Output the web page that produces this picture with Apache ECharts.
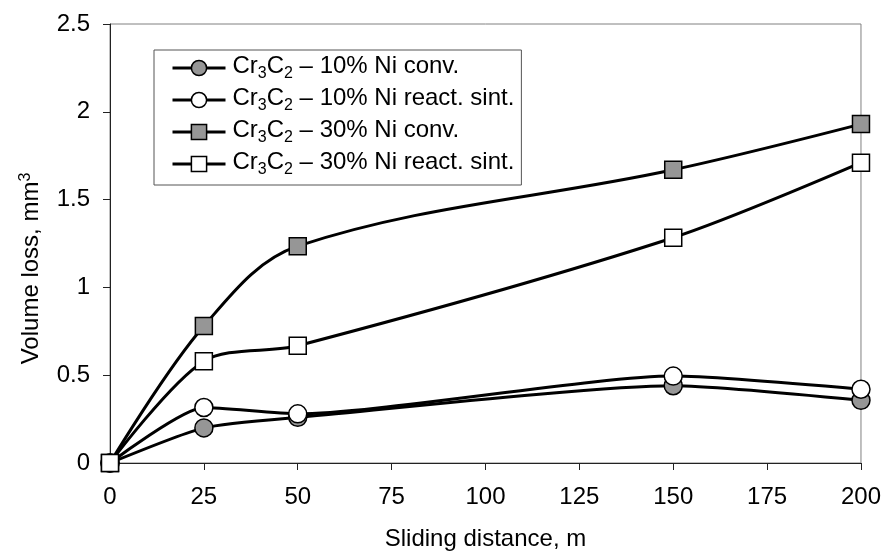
<!DOCTYPE html>
<html>
<head>
<meta charset="utf-8">
<script src="https://cdn.jsdelivr.net/npm/echarts@6/dist/echarts.min.js"></script>
<style>
    html, body { margin: 0; padding: 0; background: #ffffff; }
    #chart { width: 884px; height: 556px; }
</style>
</head>
<body>
<div id="chart"></div>
<script>
const distances = [0, 25, 50, 150, 200];

const ni10Conv = [0, 0.2, 0.26, 0.44, 0.357];
const ni10React = [0, 0.316, 0.28, 0.495, 0.42];
const ni30Conv = [0, 0.78, 1.235, 1.67, 1.93];
const ni30React = [0, 0.58, 0.668, 1.283, 1.71];

const seriesNames = [
    "{m|Cr}{sub|3}{m|C}{sub|2}{m| – 10% Ni conv.}",
    "{m|Cr}{sub|3}{m|C}{sub|2}{m| – 10% Ni react. sint.}",
    "{m|Cr}{sub|3}{m|C}{sub|2}{m| – 30% Ni conv.}",
    "{m|Cr}{sub|3}{m|C}{sub|2}{m| – 30% Ni react. sint.}"
];

const FONT = "'Liberation Sans', Arial, sans-serif";

function toPoints(values) {
    return distances.map((d, i) => [d, values[i]]);
}

function makeSeries(name, values, symbol, fill, size, smooth) {
    return {
        name: name,
        type: "line",
        smooth: smooth,
        data: toPoints(values),
        symbol: symbol,
        symbolSize: size,
        showAllSymbol: true,
        clip: false,
        lineStyle: {
            color: "#000000",
            width: 3
        },
        itemStyle: {
            color: fill,
            borderColor: "#000000",
            borderWidth: 1.5
        },
        emphasis: { disabled: true }
    };
}

const chart = echarts.init(document.getElementById("chart"));

chart.setOption({
    animation: false,
    textStyle: {
        fontFamily: FONT
    },
    grid: {
        left: 110,
        right: 21,
        top: 24,
        bottom: 91,
        show: true,
        borderColor: "#808080",
        borderWidth: 1
    },
    legend: {
        orient: "vertical",
        left: 154,
        top: 50,
        padding: [4, 7, 7, 17],
        itemGap: 4,
        itemWidth: 53,
        itemHeight: 19,
        borderColor: "#555555",
        borderWidth: 1,
        backgroundColor: "#ffffff",
        lineStyle: {
            width: 3
        },
        itemStyle: {
            borderColor: "#000000",
            borderWidth: 1.5
        },
        textStyle: {
            color: "#000000",
            fontSize: 24,
            fontFamily: FONT,
            padding: [0, 0, 0, 2],
            rich: {
                m: {
                    color: "#000000",
                    fontSize: 24,
                    fontFamily: FONT,
                    lineHeight: 28,
                    verticalAlign: "top"
                },
                sub: {
                    color: "#000000",
                    fontSize: 16,
                    fontFamily: FONT,
                    lineHeight: 16,
                    verticalAlign: "top",
                    padding: [12, 0, 0, 0]
                }
            }
        },
        data: seriesNames
    },
    xAxis: {
        type: "value",
        min: 0,
        max: 200,
        interval: 25,
        name: "Sliding distance, m",
        nameLocation: "middle",
        nameGap: 64,
        nameTextStyle: {
            color: "#000000",
            fontSize: 24,
            fontFamily: FONT
        },
        axisLine: {
            lineStyle: { color: "#222222", width: 1 }
        },
        axisTick: {
            inside: false,
            length: 7,
            lineStyle: { color: "#222222" }
        },
        axisLabel: {
            color: "#000000",
            fontSize: 24,
            margin: 22
        },
        splitLine: { show: false }
    },
    yAxis: {
        type: "value",
        min: 0,
        max: 2.5,
        interval: 0.5,
        name: "Volume loss, mm{sup|3}",
        nameLocation: "middle",
        nameGap: 64,
        nameRotate: 90,
        nameTextStyle: {
            color: "#000000",
            fontSize: 24,
            fontFamily: FONT,
            lineHeight: 28,
            padding: [0, 50, 0, 0],
            rich: {
                sup: {
                    fontSize: 16,
                    fontFamily: FONT,
                    verticalAlign: "top",
                    lineHeight: 14
                }
            }
        },
        axisLine: {
            show: true,
            lineStyle: { color: "#222222", width: 1 }
        },
        axisTick: {
            show: true,
            inside: false,
            length: 7,
            lineStyle: { color: "#222222" }
        },
        axisLabel: {
            color: "#000000",
            fontSize: 24,
            margin: 20
        },
        splitLine: { show: false }
    },
    series: [
        makeSeries(seriesNames[0], ni10Conv, "circle", "#969696", 18, 0.2),
        makeSeries(seriesNames[1], ni10React, "circle", "#ffffff", 18, 0.2),
        makeSeries(seriesNames[2], ni30Conv, "rect", "#969696", 17, 0.35),
        makeSeries(seriesNames[3], ni30React, "rect", "#ffffff", 17, 0.3)
    ]
});
</script>
</body>
</html>
